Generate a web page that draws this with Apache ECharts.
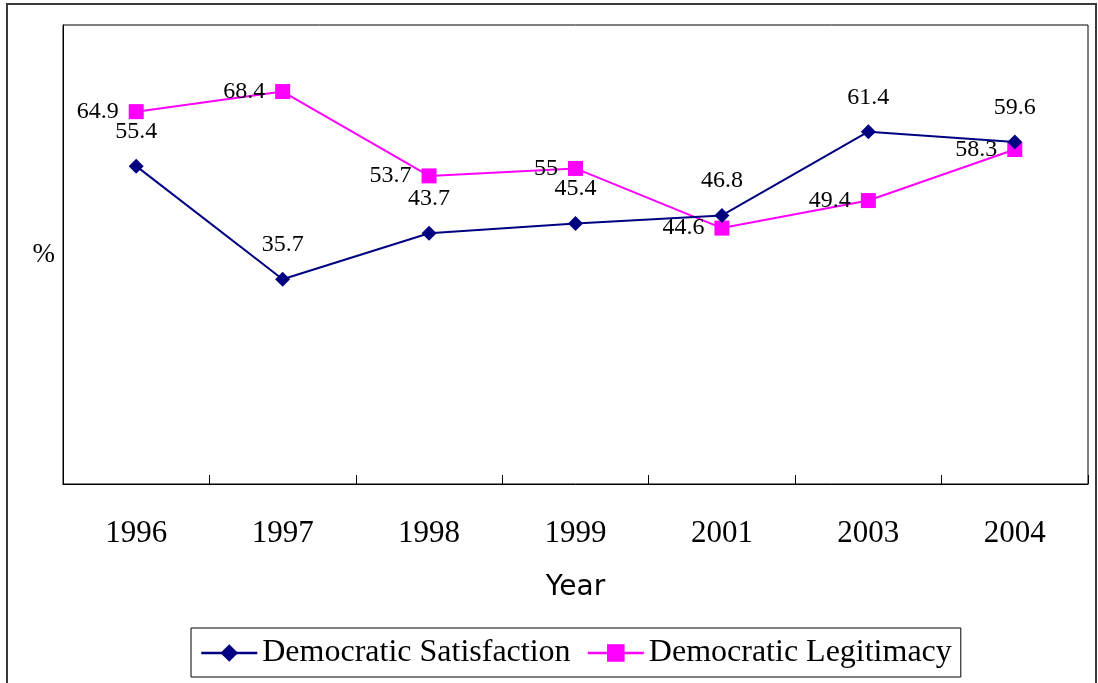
<!DOCTYPE html>
<html>
<head>
<meta charset="utf-8">
<script src="https://cdn.jsdelivr.net/npm/echarts@6/dist/echarts.min.js"></script>
<style>
html,body{margin:0;padding:0;background:#fff;}
#chart{width:1098px;height:683px;}
</style>
</head>
<body>
<div id="chart"></div>
<script>
const years = ['1996','1997','1998','1999','2001','2003','2004'];
const satisfaction = [55.4, 35.7, 43.7, 45.4, 46.8, 61.4, 59.6];
const legitimacy = [64.9, 68.4, 53.7, 55, 44.6, 49.4, 58.3];

const serif = '"Times New Roman","Liberation Serif",serif';
const chart = echarts.init(document.getElementById('chart'));
chart.setOption({
  animation: false,
  backgroundColor: '#fff',
  graphic: [{
    type: 'rect', silent: true, z: -1,
    shape: {x: 7, y: 4, width: 1089, height: 700},
    style: {fill: 'none', stroke: '#3a3a3a', lineWidth: 2}
  }],
  grid: {left: 63, right: 10, top: 25, bottom: 199, show: true, borderColor: '#000', borderWidth: 1, backgroundColor: 'transparent'},
  legend: {
    top: 628, left: 191,
    itemWidth: 56, itemHeight: 22, itemGap: 16,
    padding: [9, 9, 8, 9],
    borderColor: '#000', borderWidth: 1,
    lineStyle: {width: 2.5},
    textStyle: {fontFamily: serif, fontSize: 32, lineHeight: 32, color: '#000'},
    data: ['Democratic Satisfaction', 'Democratic Legitimacy']
  },
  xAxis: {
    type: 'category', data: years, boundaryGap: true,
    name: 'Year', nameLocation: 'middle', nameGap: 90,
    nameTextStyle: {fontFamily: '"DejaVu Sans",sans-serif', fontSize: 28, color: '#000'},
    axisLine: {show: true, lineStyle: {color: '#000', width: 1}},
    axisTick: {show: true, inside: true, length: 9, alignWithLabel: false, interval: 0, lineStyle: {color: '#000', width: 1}},
    axisLabel: {fontFamily: serif, fontSize: 31, color: '#000', margin: 34},
    splitLine: {show: false}
  },
  yAxis: {
    type: 'value', min: 0, max: 80,
    name: '%', nameLocation: 'middle', nameRotate: 0, nameGap: 8,
    nameTextStyle: {fontFamily: serif, fontSize: 27, color: '#000'},
    axisLine: {show: true, lineStyle: {color: '#000'}},
    axisTick: {show: false}, axisLabel: {show: false}, splitLine: {show: false}
  },
  series: [{
    name: 'Democratic Satisfaction', type: 'line', data: satisfaction,
    symbol: 'diamond', symbolSize: 15,
    itemStyle: {color: '#000080'}, lineStyle: {color: '#000080', width: 2},
    label: {show: true, position: 'top', distance: 15, fontFamily: serif, fontSize: 24, color: '#000'},
    z: 3
  }, {
    name: 'Democratic Legitimacy', type: 'line', data: legitimacy,
    symbol: 'rect', symbolSize: 15,
    itemStyle: {color: '#FF00FF'}, lineStyle: {color: '#FF00FF', width: 2},
    label: {show: true, position: 'left', distance: 10, fontFamily: serif, fontSize: 24, color: '#000'},
    z: 2
  }]
});
</script>
</body>
</html>
